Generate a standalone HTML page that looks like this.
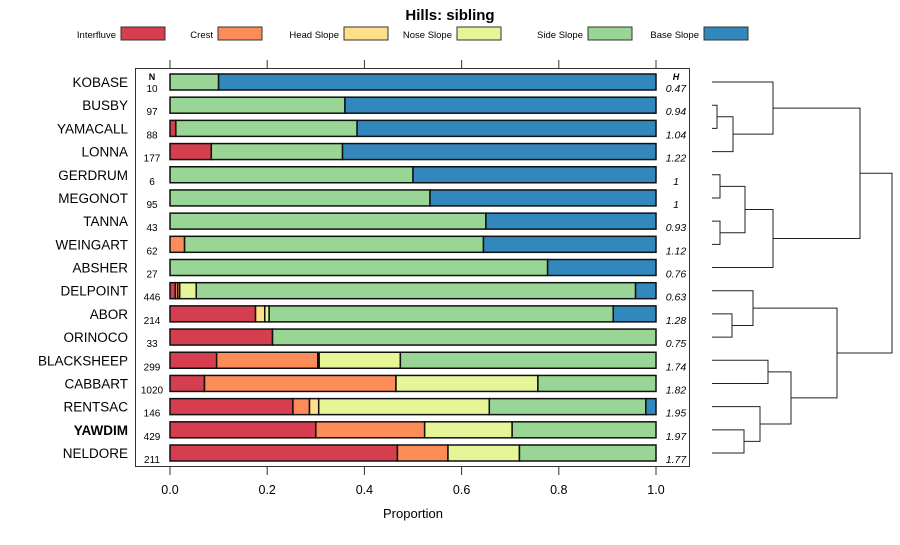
<!DOCTYPE html>
<html><head><meta charset="utf-8"><style>
body{margin:0;background:#fff;}
svg text{font-family:"Liberation Sans",sans-serif;}
</style></head><body>
<svg id="c" width="900" height="540" xmlns="http://www.w3.org/2000/svg"></svg>
<script>
const categories=["KOBASE","BUSBY","YAMACALL","LONNA","GERDRUM","MEGONOT","TANNA","WEINGART","ABSHER","DELPOINT","ABOR","ORINOCO","BLACKSHEEP","CABBART","RENTSAC","YAWDIM","NELDORE"];
const counts=[10,97,88,177,6,95,43,62,27,446,214,33,299,1020,146,429,211];
const entropy=["0.47","0.94","1.04","1.22","1","1","0.93","1.12","0.76","0.63","1.28","0.75","1.74","1.82","1.95","1.97","1.77"];
const seriesNames=["Interfluve","Crest","Head Slope","Nose Slope","Side Slope","Base Slope"];
const interfluve=[0,0,0.012,0.085,0,0,0,0,0,0.011,0.176,0.211,0.096,0.071,0.253,0.30,0.468];
const crest=[0,0,0,0,0,0,0,0.03,0,0.005,0,0,0.208,0.394,0.034,0.224,0.104];
const headSlope=[0,0,0,0,0,0,0,0,0,0.004,0.019,0,0.003,0,0.019,0,0];
const noseSlope=[0,0,0,0,0,0,0,0,0,0.034,0.009,0,0.167,0.292,0.351,0.18,0.147];
const sideSlope=[0.10,0.36,0.373,0.27,0.50,0.535,0.65,0.615,0.777,0.904,0.708,0.789,0.526,0.243,0.322,0.296,0.281];
const baseSlope=[0.90,0.64,0.615,0.645,0.50,0.465,0.35,0.355,0.223,0.042,0.088,0,0,0,0.021,0,0];
const xTicks=[0,0.2,0.4,0.6,0.8,1.0];
const xTickLabels=["0.0","0.2","0.4","0.6","0.8","1.0"];
// dendrogram merges: [leftNode, rightNode, height(px position)]; leaves 0..16, merges numbered 17+
const merges=[[1,2,717],[17,3,733],[0,18,773],[4,5,720],[6,7,720],[20,21,745],[22,8,773],[19,23,860],[10,11,732],[9,25,753],[12,13,768],[15,16,744],[14,28,760],[27,29,791],[26,30,837],[24,31,892]];
const colors=["#D53E4F","#FC8D59","#FEE08B","#E6F598","#99D594","#3288BD"];
const series=[interfluve,crest,headSlope,noseSlope,sideSlope,baseSlope];
const NS="http://www.w3.org/2000/svg";
const svg=document.getElementById("c");
function mk(t,a,p){const e=document.createElementNS(NS,t);for(const k in a)e.setAttribute(k,a[k]);(p||svg).appendChild(e);return e;}
const x0=170,x1=656;
const xs=v=>x0+v*(x1-x0);
const yTop=82,yStep=(453-82)/(categories.length-1);
const ys=i=>yTop+i*yStep;
// title
let t=mk("text",{x:450,y:20,"text-anchor":"middle","font-size":"15","font-weight":"bold"});t.textContent="Hills: sibling";


// legend
const legX=[[70,120],[183,217],[289,343],[402,456],[527,587],[648,703]];
seriesNames.forEach((n,i)=>{
 const g=mk("g",{});
 
 
 const tx=mk("text",{x:legX[i][1]-4,y:38,"text-anchor":"end","font-size":"9.5"},g);tx.textContent=n;
 mk("rect",{x:legX[i][1]+1,y:27,width:44,height:13,fill:colors[i],stroke:"#333","stroke-width":1},g);
});
// panel
const panel=mk("rect",{x:135.5,y:68.5,width:554,height:398,fill:"none",stroke:"#333","stroke-width":1});


xTicks.forEach((v,i)=>{
 mk("line",{x1:xs(v),x2:xs(v),y1:60,y2:68,stroke:"#333"});
 mk("line",{x1:xs(v),x2:xs(v),y1:467,y2:475,stroke:"#333"});
 const l=mk("text",{x:xs(v),y:494,"text-anchor":"middle","font-size":"12.5"});l.textContent=xTickLabels[i];
 
 
});
let xt=mk("text",{x:413,y:518,"text-anchor":"middle","font-size":"13"});xt.textContent="Proportion";


let nh=mk("text",{x:152,y:80,"text-anchor":"middle","font-size":"9","font-weight":"bold"});nh.textContent="N";
let hh=mk("text",{x:676,y:80,"text-anchor":"middle","font-size":"9","font-weight":"bold","font-style":"italic"});hh.textContent="H";
categories.forEach((c,i)=>{
 const y=ys(i);
 const lab=mk("text",{x:128,y:y+5,"text-anchor":"end","font-size":"13.5","font-weight":c==="YAWDIM"?"bold":"normal"});lab.textContent=c;
 
 
 const n=mk("text",{x:152,y:y+10,"text-anchor":"middle","font-size":"10"});n.textContent=counts[i];
 
 
 const h=mk("text",{x:676,y:y+10,"text-anchor":"middle","font-size":"10.5","font-style":"italic"});h.textContent=entropy[i];
 
 
 let cum=0;
 series.forEach((s,j)=>{
  const v=s[i];if(v<=0)return;
  const r=mk("rect",{x:xs(cum),y:y-8,width:xs(cum+v)-xs(cum),height:16,fill:colors[j],stroke:"#111","stroke-width":1.5});
  
  
  cum+=v;
 });
});
// dendrogram
const nodeY=categories.map((c,i)=>ys(i)),nodeX=categories.map(()=>712);
merges.forEach(m=>{
 const [a,b,h]=m;
 const p=mk("path",{d:`M${nodeX[a]},${nodeY[a]}H${h}V${nodeY[b]}H${nodeX[b]}`,fill:"none",stroke:"#222","stroke-width":1});
 
 
 nodeY.push((nodeY[a]+nodeY[b])/2);nodeX.push(h);
});
</script>
</body></html>
